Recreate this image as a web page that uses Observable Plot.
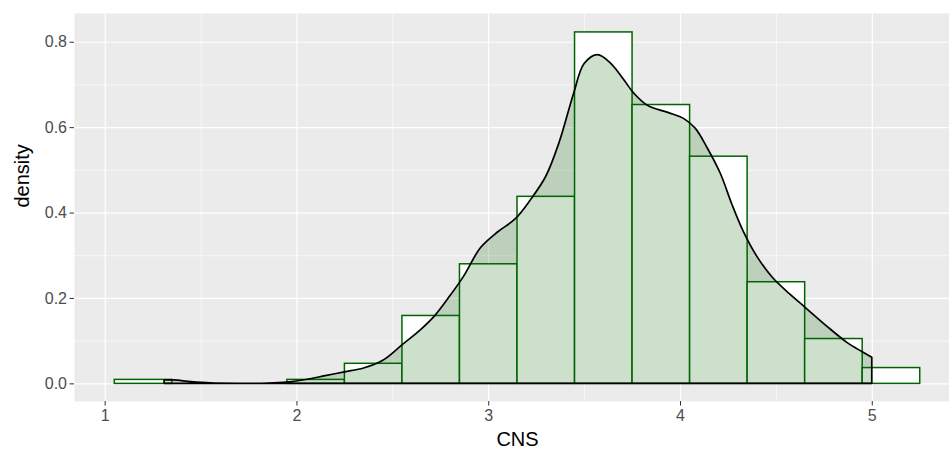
<!DOCTYPE html>
<html><head><meta charset="utf-8">
<script src="https://cdn.jsdelivr.net/npm/d3@7"></script>
<script src="https://cdn.jsdelivr.net/npm/@observablehq/plot@0.6"></script>
<style>html,body{margin:0;padding:0;overflow:hidden;background:#fff} #chart{width:949px;height:449px;overflow:hidden} svg{display:block;max-width:none !important;width:960px !important;height:449px !important}</style>
</head><body><div id="chart"></div>
<script>
// Histogram bins (CNS), binwidth 0.3
const binStart = [1.05, 1.95, 2.25, 2.55, 2.85, 3.15, 3.45, 3.75, 4.05, 4.35, 4.65, 4.95];
const binEnd   = [1.35, 2.25, 2.55, 2.85, 3.15, 3.45, 3.75, 4.05, 4.35, 4.65, 4.95, 5.25];
const binDensity = [0.0093, 0.0093, 0.047, 0.159, 0.280, 0.438, 0.823, 0.653, 0.532, 0.238, 0.105, 0.037];

// Kernel density estimate
const densX = [1.31, 1.36, 1.45, 1.55, 1.70, 1.85, 1.95, 2.05, 2.15, 2.25, 2.35, 2.45, 2.55, 2.65, 2.72, 2.80, 2.87, 2.96, 3.05, 3.14, 3.22, 3.30, 3.37, 3.445, 3.50, 3.57, 3.64, 3.71, 3.76, 3.83, 3.94, 4.02, 4.08, 4.14, 4.21, 4.27, 4.33, 4.40, 4.48, 4.57, 4.655, 4.76, 4.87, 4.95, 5.00];
const densY = [0.008, 0.008, 0.004, 0.001, 0.000, 0.0005, 0.003, 0.009, 0.018, 0.027, 0.036, 0.054, 0.090, 0.127, 0.158, 0.205, 0.250, 0.318, 0.355, 0.385, 0.430, 0.485, 0.565, 0.679, 0.749, 0.770, 0.749, 0.709, 0.679, 0.651, 0.634, 0.620, 0.597, 0.553, 0.492, 0.420, 0.356, 0.298, 0.249, 0.210, 0.177, 0.136, 0.096, 0.074, 0.061];

// Ticks / grid
const xTicks = [1, 2, 3, 4, 5];
const xMinor = [1.5, 2.5, 3.5, 4.5];
const yTicks = [0, 0.2, 0.4, 0.6, 0.8];
const yMinor = [0.1, 0.3, 0.5, 0.7];

const bins = binStart.map((s, i) => ({x1: s, x2: binEnd[i], y: binDensity[i]}));
const dens = densX.map((x, i) => ({x, y: densY[i]}));

const tickFont = 16;
const chart = Plot.plot({
  width: 960,
  height: 449,
  marginLeft: 74,
  marginRight: 0,
  marginTop: 13,
  marginBottom: 48,
  style: {fontFamily: "'Liberation Sans', Arial, sans-serif", background: "#fff", maxWidth: "none"},
  x: {domain: [0.84, 5.46]},
  y: {domain: [-0.0413, 0.8673]},
  marks: [
    Plot.frame({fill: "#EBEBEB", stroke: null}),
    Plot.ruleX(xMinor, {stroke: "#fff", strokeWidth: 0.6}),
    Plot.ruleY(yMinor, {stroke: "#fff", strokeWidth: 0.6}),
    Plot.ruleX(xTicks, {stroke: "#fff", strokeWidth: 1.2}),
    Plot.ruleY(yTicks, {stroke: "#fff", strokeWidth: 1.2}),
    Plot.rectY(bins, {x1: "x1", x2: "x2", y1: 0, y2: "y", fill: "#fff", stroke: "#006400", strokeWidth: 1.5}),
    Plot.areaY(dens, {x: "x", y1: 0, y2: "y", fill: "#006400", fillOpacity: 0.2, stroke: "#000", strokeWidth: 1.7, curve: "catmull-rom"}),
    Plot.axisX(xTicks, {tickSize: 4.5, tickPadding: 4, stroke: "#333", fill: "#4D4D4D", fontSize: tickFont, label: null, tickFormat: d3.format("d")}),
    Plot.axisY(yTicks, {tickSize: 4.5, tickPadding: 3, stroke: "#333", fill: "#4D4D4D", fontSize: tickFont, label: null, tickFormat: d3.format(".1f")}),
    Plot.text(["CNS"], {frameAnchor: "bottom", dy: 38, lineAnchor: "middle", fontSize: 20, fill: "#000"}),
    Plot.text(["density"], {frameAnchor: "left", dx: -52, rotate: -90, lineAnchor: "middle", fontSize: 20, fill: "#000"})
  ]
});
document.getElementById("chart").appendChild(chart);
</script>
</body></html>
